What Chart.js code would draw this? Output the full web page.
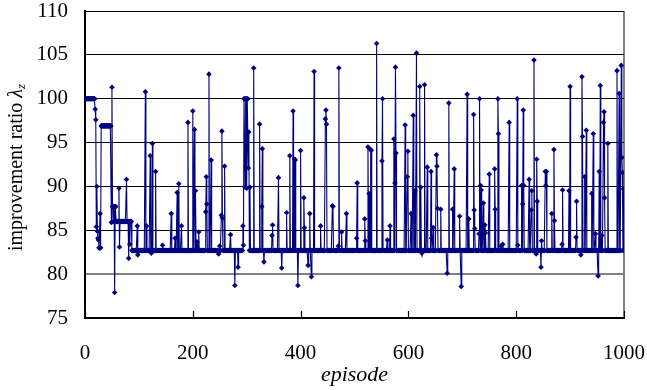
<!DOCTYPE html>
<html>
<head>
<meta charset="utf-8">
<script src="https://cdn.jsdelivr.net/npm/chart.js@4/dist/chart.umd.min.js"></script>
<style>
  html, body { margin: 0; padding: 0; background: #fff; }
  #wrap { width: 647px; height: 390px; position: relative; }
</style>
</head>
<body>
<div id="wrap"><canvas id="chart"></canvas></div>
<script>
// values
const episodeCount = 1000;
const baselineValue = 82.7;           // the value most episodes sit on
const xTicks = [0, 200, 400, 600, 800, 1000];
const yTicks = [75, 80, 85, 90, 95, 100, 105, 110];

// flat stretches at the start: [first episode, last episode, value]
const plateaus = [
  [0, 18, 100],
  [30, 48, 96.9],
  [53, 86, 86.0]
];

// episodes that differ from the baseline / plateaus: [episode, value]
const spikes = [
  [19, 98.8], [20, 97.6], [21, 85.4], [22, 90.0], [23, 84.9], [24, 84.1], [25, 83.9], [26, 83.0],
  [27, 83.0], [28, 86.9], [29, 83.0], [49, 85.9], [50, 101.3], [51, 87.7], [52, 87.7], [54, 87.7],
  [55, 77.9], [56, 87.7], [57, 87.7], [63, 89.8], [64, 83.1], [77, 90.8], [81, 81.8], [83, 83.4],
  [97, 85.5], [98, 82.2], [112, 100.8], [114, 85.5], [121, 93.5], [123, 82.4], [125, 94.9], [131, 91.7],
  [144, 83.3], [160, 86.9], [167, 84.1], [171, 89.3], [174, 90.3], [179, 85.5], [191, 97.3], [200, 98.6],
  [203, 96.5], [205, 89.5], [208, 83.7], [211, 84.8], [224, 87.1], [225, 91.1], [226, 88.0], [230, 102.8],
  [234, 93.0], [248, 82.3], [250, 83.2], [253, 86.7], [254, 96.3], [255, 86.4], [259, 92.3], [270, 84.5],
  [278, 78.7], [284, 80.8], [293, 85.5], [294, 83.3], [295, 100], [296, 100], [297, 89.9], [298, 100],
  [299, 100], [300, 89.8], [301, 100], [302, 100], [303, 92.1], [304, 96.2], [306, 89.9], [313, 103.5],
  [324, 97.1], [328, 87.7], [329, 94.3], [332, 81.4], [347, 84.4], [348, 85.6], [359, 91.0], [365, 80.7],
  [374, 87.0], [380, 93.5], [386, 98.6], [389, 93.1], [390, 93.0], [395, 78.7], [400, 94.1], [406, 88.7],
  [407, 85.3], [414, 81.0], [417, 86.9], [420, 79.7], [425, 103.1], [437, 85.5], [446, 97.7], [447, 98.7],
  [448, 97.1], [459, 87.8], [460, 87.7], [470, 83.2], [471, 103.5], [476, 84.8], [485, 86.9], [504, 84.1],
  [505, 90.4], [519, 86.3], [520, 83.8], [525, 94.5], [527, 89.2], [530, 94.2], [531, 94.1], [541, 106.3],
  [551, 92.9], [552, 100.0], [561, 83.9], [566, 85.5], [573, 95.4], [575, 90.4], [576, 103.6], [577, 93.8],
  [594, 97.0], [598, 91.1], [599, 94.0], [605, 86.9], [609, 98.1], [612, 89.5], [615, 105.2], [621, 101.4],
  [623, 89.9], [625, 82.4], [630, 101.6], [635, 92.2], [642, 91.7], [643, 84.1], [646, 85.3], [652, 93.6],
  [653, 92.3], [654, 87.5], [660, 87.4], [672, 80.1], [675, 99.5], [682, 87.4], [685, 92.0], [695, 86.6],
  [698, 78.6], [709, 100.5], [712, 86.3], [721, 98.2], [722, 87.3], [723, 85.2], [731, 84.6], [732, 100.0],
  [734, 90.1], [735, 89.6], [739, 88.1], [742, 85.6], [743, 84.7], [750, 91.4], [760, 92.0], [761, 87.4],
  [766, 100.0], [767, 96.0], [772, 83.2], [775, 83.4], [787, 97.3], [802, 100.0], [803, 83.3], [810, 90.1],
  [812, 88.0], [813, 98.7], [814, 90.1], [824, 90.8], [828, 87.3], [829, 89.5], [833, 104.4], [837, 82.3],
  [838, 93.1], [839, 88.3], [846, 80.8], [847, 83.8], [854, 91.7], [855, 90.1], [856, 91.7], [866, 86.9],
  [870, 94.2], [871, 86.1], [885, 83.4], [886, 89.6], [898, 89.5], [900, 101.4], [911, 84.2], [912, 88.3],
  [920, 82.2], [922, 102.5], [923, 95.7], [927, 91.1], [930, 96.4], [940, 89.2], [943, 96.0], [947, 84.6],
  [952, 79.8], [954, 91.7], [956, 101.5], [959, 84.4], [962, 97.3], [963, 98.5], [964, 88.7], [970, 94.9],
  [987, 103.2], [991, 100.6], [995, 103.8], [996, 93.3], [997, 91.6], [999, 89.7]
];

const xLabel = 'episode';
const yLabelMain = 'improvement ratio ';
const yLabelSym = 'λ';
const yLabelSub = 'z';

// decode the runs above into one value per episode
const spikeMap = new Map(spikes);
const points = [];
for (let e = 0; e <= episodeCount; e++) {
  let v = baselineValue;
  plateaus.forEach(([a, b, val]) => { if (e >= a && e <= b) v = val; });
  if (spikeMap.has(e)) v = spikeMap.get(e);
  points.push({ x: e, y: v });
}

const serif = '"Liberation Serif", "Times New Roman", serif';
const navy = '#000080';

// small inward tick marks on the bottom axis, and the y title with subscript
const extras = {
  id: 'extras',
  beforeDatasetsDraw(chart) {
    const { ctx, chartArea, scales } = chart;
    ctx.save();
    ctx.strokeStyle = '#000';
    ctx.lineWidth = 1.2;
    xTicks.forEach(t => {
      const px = Math.round(scales.x.getPixelForValue(t)) + 0.5;
      ctx.beginPath();
      ctx.moveTo(px, chartArea.bottom);
      ctx.lineTo(px, chartArea.bottom - 7);
      ctx.stroke();
    });
    ctx.restore();
  },
  afterDraw(chart) {
    const { ctx, chartArea } = chart;
    ctx.save();
    const cy = (chartArea.top + chartArea.bottom) / 2 + 3;
    ctx.translate(17, cy);
    ctx.rotate(-Math.PI / 2);
    ctx.fillStyle = '#000';
    ctx.textBaseline = 'middle';
    const fMain = '20px ' + serif;
    const fSym = 'italic 20px ' + serif;
    const fSub = 'italic 13px ' + serif;
    ctx.font = fMain; const w1 = ctx.measureText(yLabelMain).width;
    ctx.font = fSym; const w2 = ctx.measureText(yLabelSym).width;
    ctx.font = fSub; const w3 = ctx.measureText(yLabelSub).width;
    let x = -(w1 + w2 + w3) / 2;
    ctx.font = fMain; ctx.fillText(yLabelMain, x, 0); x += w1;
    ctx.font = fSym; ctx.fillText(yLabelSym, x, 0); x += w2;
    ctx.font = fSub; ctx.fillText(yLabelSub, x, 5);
    ctx.restore();
  }
};

new Chart(document.getElementById('chart'), {
  type: 'line',
  data: {
    datasets: [{
      data: points,
      borderColor: navy,
      borderWidth: 1.1,
      backgroundColor: navy,
      pointStyle: 'rectRot',
      pointRadius: 2.8,
      pointBorderWidth: 0,
      pointBackgroundColor: navy,
      tension: 0,
      fill: false
    }]
  },
  options: {
    responsive: true,
    maintainAspectRatio: false,
    animation: false,
    events: [],
    layout: { padding: { left: 0, right: 23, top: 11, bottom: 0 } },
    plugins: { legend: { display: false }, tooltip: { enabled: false } },
    scales: {
      x: {
        type: 'linear',
        min: 0,
        max: episodeCount,
        afterBuildTicks: s => { s.ticks = xTicks.map(v => ({ value: v })); },
        afterFit: s => { s.height = 72; s.paddingLeft = 0; s.paddingRight = 0; },
        ticks: {
          color: '#000', font: { family: serif, size: 21 }, padding: 23, maxRotation: 0,
          callback: v => String(v)
        },
        grid: {
          drawTicks: false,
          color: c => (c.tick && c.tick.value === episodeCount) ? '#808080' : 'transparent',
          lineWidth: 2
        },
        border: { color: '#000', width: 2 },
        title: {
          display: true, text: xLabel, color: '#000',
          font: { family: serif, size: 22, style: 'italic' },
          padding: { top: 0, bottom: 2 }
        }
      },
      y: {
        min: 75,
        max: 110,
        afterBuildTicks: s => { s.ticks = yTicks.map(v => ({ value: v })); },
        afterFit: s => { s.width = 85; s.paddingTop = 0; s.paddingBottom = 0; },
        ticks: {
          color: '#000', font: { family: serif, size: 21 }, padding: 17,
          callback: v => String(v)
        },
        grid: {
          drawTicks: false,
          color: c => (c.tick && c.tick.value === 80) ? '#808080' : '#000',
          lineWidth: c => (c.tick && c.tick.value === 80) ? 2 : 1
        },
        border: { color: '#000', width: 2 }
      }
    }
  },
  plugins: [extras]
});
</script>
</body>
</html>
